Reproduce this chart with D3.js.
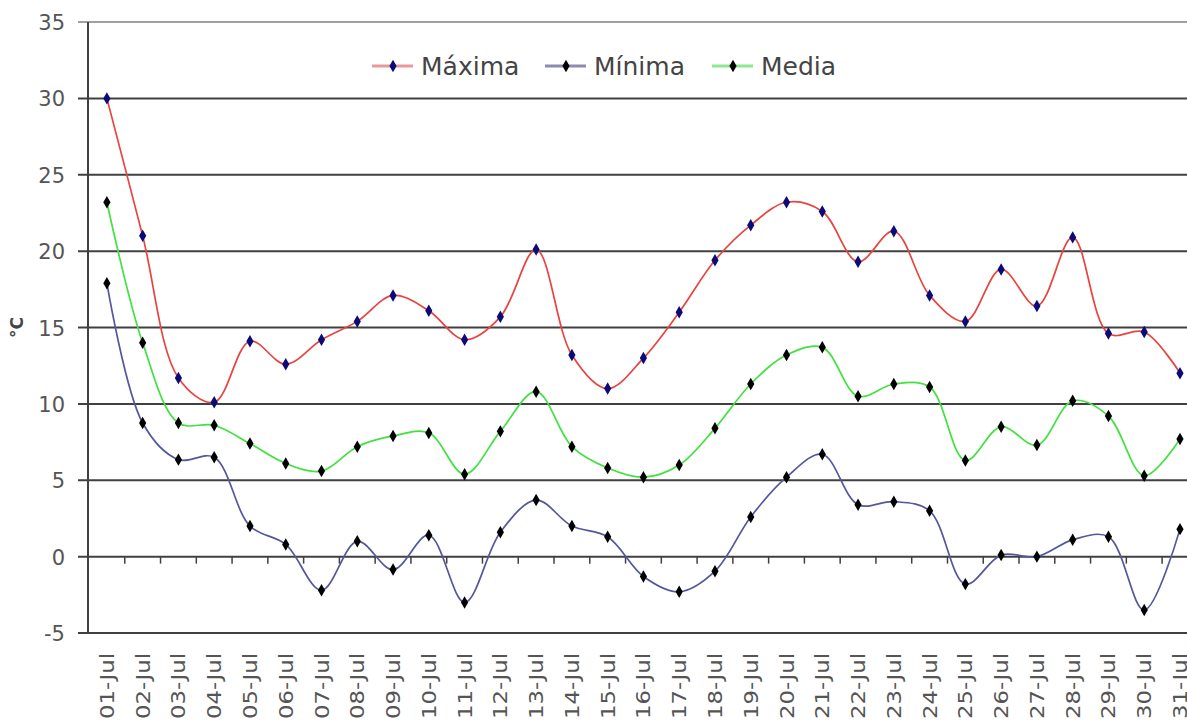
<!DOCTYPE html>
<html lang="es">
<head>
<meta charset="utf-8">
<title>Temperaturas julio</title>
<script src="https://d3js.org/d3.v7.min.js"></script>
<style>
  body { margin: 0; background: #fff; }
  svg { display: block; font-family: "DejaVu Sans", Verdana, sans-serif; }
</style>
</head>
<body>
<script>
// dias de julio
const dias = d3.range(1, 32).map(d => String(d).padStart(2, "0") + "-Jul");

const maxima = [30.0, 21.0, 11.7, 10.1, 14.1, 12.6, 14.2, 15.4, 17.1, 16.1,
                14.2, 15.7, 20.1, 13.2, 11.0, 13.0, 16.0, 19.4, 21.7, 23.2,
                22.6, 19.3, 21.3, 17.1, 15.4, 18.8, 16.4, 20.9, 14.6, 14.7, 12.0];
const minima = [17.9, 8.75, 6.35, 6.5, 2.0, 0.8, -2.2, 1.0, -0.85, 1.4,
                -3.0, 1.6, 3.7, 2.0, 1.3, -1.3, -2.3, -0.95, 2.6, 5.2,
                6.7, 3.4, 3.6, 3.0, -1.8, 0.1, 0.0, 1.1, 1.3, -3.5, 1.8];
const media  = [23.2, 14.0, 8.75, 8.6, 7.4, 6.1, 5.6, 7.2, 7.9, 8.1,
                5.4, 8.2, 10.8, 7.2, 5.8, 5.2, 6.0, 8.4, 11.3, 13.2,
                13.7, 10.5, 11.3, 11.1, 6.3, 8.5, 7.3, 10.2, 9.2, 5.3, 7.7];
const yTicks = [-5, 0, 5, 10, 15, 20, 25, 30, 35];

const series = [
  { nombre: "Máxima", valores: maxima, linea: "#e8443f", ley: "#e89a9a", marca: "#0a0a78" },
  { nombre: "Mínima", valores: minima, linea: "#54579c", ley: "#8c8cae", marca: "#000" },
  { nombre: "Media",  valores: media,  linea: "#3fe23f", ley: "#8ee88e", marca: "#000" }
];

const w = 1187, h = 726;
const svg = d3.select("body").append("svg").attr("width", w).attr("height", h);

const x = d3.scaleBand().domain(dias).range([89, 89 + 31 * 35.77]);
const y = d3.scaleLinear().domain([-5, 35]).range([633, 22]);
const cx = d => x(d) + x.bandwidth() / 2;

// lineas de cuadricula
svg.append("g").selectAll("line")
  .data(yTicks)
  .join("line")
  .attr("x1", 78).attr("x2", w)
  .attr("y1", d => y(d)).attr("y2", d => y(d))
  .attr("stroke", d => d === 35 ? "#a0a0a0" : "#404040")
  .attr("stroke-width", 2);

// eje y
svg.append("line")
  .attr("x1", 88).attr("x2", 88)
  .attr("y1", y(35)).attr("y2", y(-5))
  .attr("stroke", "#404040").attr("stroke-width", 2);

svg.append("g").selectAll("text")
  .data(yTicks)
  .join("text")
  .attr("x", 65).attr("y", d => y(d) + 8)
  .attr("text-anchor", "end")
  .attr("font-size", 21).attr("fill", "#555")
  .text(d => d);

svg.append("text")
  .attr("transform", `translate(23,${y(15)}) rotate(-90)`)
  .attr("text-anchor", "middle")
  .attr("font-size", 17).attr("font-weight", "bold").attr("fill", "#444")
  .text("°C");

// eje x en el cero, marcas entre categorias
svg.append("g").selectAll("line")
  .data(dias.slice(1))
  .join("line")
  .attr("x1", d => x(d)).attr("x2", d => x(d))
  .attr("y1", y(0)).attr("y2", y(0) + 7)
  .attr("stroke", "#404040").attr("stroke-width", 1.5);

svg.append("g").selectAll("text")
  .data(dias)
  .join("text")
  .attr("transform", d => `translate(${cx(d) + 7},653) rotate(-90)`)
  .attr("text-anchor", "end")
  .attr("font-size", 20).attr("fill", "#555")
  .attr("textLength", 66).attr("lengthAdjust", "spacingAndGlyphs")
  .text(d => d);

// series
const linea = d3.line()
  .x((v, i) => cx(dias[i]))
  .y(v => y(v))
  .curve(d3.curveCatmullRom.alpha(0.5));

const diamante = d3.symbol().type(d3.symbolDiamond).size(45);

series.forEach(s => {
  svg.append("path")
    .datum(s.valores)
    .attr("d", linea)
    .attr("fill", "none")
    .attr("stroke", s.linea)
    .attr("stroke-width", 1.7);

  svg.append("g").selectAll("path")
    .data(s.valores)
    .join("path")
    .attr("transform", (v, i) => `translate(${cx(dias[i])},${y(v)})`)
    .attr("d", diamante)
    .attr("fill", s.marca);
});

// leyenda
const leyX = [372, 545, 712];
const leyenda = svg.append("g").selectAll("g")
  .data(series)
  .join("g")
  .attr("transform", (d, i) => `translate(${leyX[i]},66)`);

leyenda.append("line")
  .attr("x1", 0).attr("x2", 41)
  .attr("stroke", d => d.ley).attr("stroke-width", 3);
leyenda.append("path")
  .attr("transform", "translate(21,0)")
  .attr("d", diamante)
  .attr("fill", d => d.marca);
leyenda.append("text")
  .attr("x", 49).attr("y", 9)
  .attr("font-size", 25).attr("fill", "#444")
  .text(d => d.nombre);
</script>
</body>
</html>
